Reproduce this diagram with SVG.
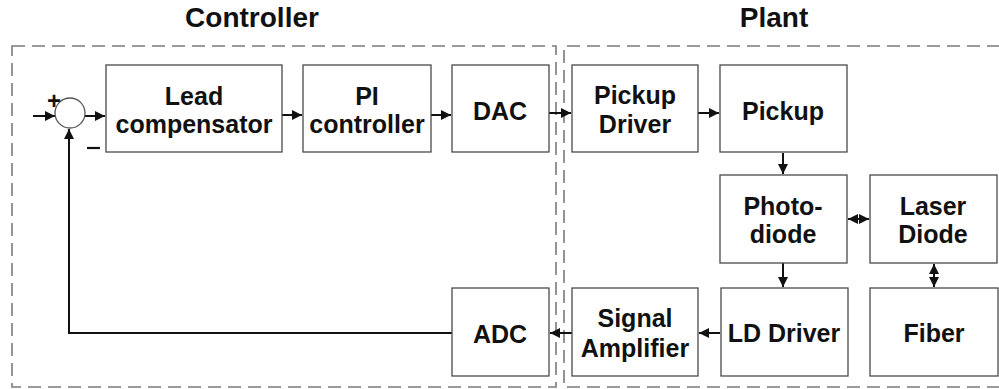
<svg xmlns="http://www.w3.org/2000/svg" width="999" height="389" viewBox="0 0 999 389">
<style>
.box{fill:#fff;stroke:#4a4a4a;stroke-width:1.3}
.t{font-family:"Liberation Sans",Arial,sans-serif;font-weight:bold;font-size:25px;fill:#111;text-anchor:middle}
.title{font-family:"Liberation Sans",Arial,sans-serif;font-weight:bold;font-size:28px;fill:#111;text-anchor:middle}
.dash{fill:none;stroke:#7a7a7a;stroke-width:1.6;stroke-dasharray:13 7}
.c{fill:none;stroke:#111;stroke-width:2}
</style>
<defs>
<marker id="ah" viewBox="0 0 10 10" refX="10" refY="5" markerWidth="5" markerHeight="5" orient="auto-start-reverse" markerUnits="strokeWidth">
<path d="M0,0 L10,5 L0,10 z" fill="#111"/>
</marker>
</defs>
<rect width="999" height="389" fill="#fff"/>
<text class="title" x="252" y="27">Controller</text>
<text class="title" x="774" y="27">Plant</text>
<rect class="dash" x="12" y="46" width="544" height="341"/>
<path class="dash" d="M1000,46 H564 V387 H1000"/>
<g id="connectors">
<line class="c" x1="33" y1="116" x2="55" y2="116" marker-end="url(#ah)"/>
<line class="c" x1="85" y1="116" x2="105" y2="116" marker-end="url(#ah)"/>
<line class="c" x1="282" y1="115" x2="302" y2="115" marker-end="url(#ah)"/>
<line class="c" x1="431" y1="115" x2="451" y2="115" marker-end="url(#ah)"/>
<line class="c" x1="549" y1="113" x2="571" y2="113" marker-end="url(#ah)"/>
<line class="c" x1="698" y1="113" x2="719" y2="113" marker-end="url(#ah)"/>
<line class="c" x1="783" y1="153" x2="783" y2="174" marker-end="url(#ah)"/>
<line class="c" x1="848" y1="219" x2="869" y2="219" marker-start="url(#ah)" marker-end="url(#ah)"/>
<line class="c" x1="934" y1="264" x2="934" y2="287" marker-start="url(#ah)" marker-end="url(#ah)"/>
<line class="c" x1="783" y1="263" x2="783" y2="287" marker-end="url(#ah)"/>
<line class="c" x1="720" y1="333" x2="699" y2="333" marker-end="url(#ah)"/>
<line class="c" x1="572" y1="333" x2="550" y2="333" marker-end="url(#ah)"/>
<path class="c" d="M452,333 H69 V129" stroke-width="2.2" marker-end="url(#ah)"/>
</g>
<g id="sum">
<circle cx="70" cy="113" r="15" fill="#fff" stroke="#555" stroke-width="1.3"/>
<text class="t" x="54" y="109" style="font-size:24px">+</text>
<line x1="87" y1="148" x2="100" y2="148" stroke="#111" stroke-width="2.2"/>
</g>
<g id="lead"><rect class="box" x="106" y="65" width="176" height="87"/><text class="t" x="194" y="105">Lead</text><text class="t" x="194" y="133">compensator</text></g>
<g id="pi"><rect class="box" x="303" y="65" width="128" height="87"/><text class="t" x="367" y="105">PI</text><text class="t" x="367" y="133">controller</text></g>
<g id="dac"><rect class="box" x="452" y="65" width="97" height="87"/><text class="t" x="500" y="120">DAC</text></g>
<g id="pickupdriver"><rect class="box" x="572" y="65" width="126" height="87"/><text class="t" x="635" y="104">Pickup</text><text class="t" x="635" y="133">Driver</text></g>
<g id="pickup"><rect class="box" x="720" y="65" width="127" height="87"/><text class="t" x="783" y="120">Pickup</text></g>
<g id="photodiode"><rect class="box" x="720" y="175" width="127" height="88"/><text class="t" x="783" y="215">Photo-</text><text class="t" x="783" y="243">diode</text></g>
<g id="laserdiode"><rect class="box" x="870" y="175" width="127" height="88"/><text class="t" x="933" y="215">Laser</text><text class="t" x="933" y="243">Diode</text></g>
<g id="adc"><rect class="box" x="452" y="288" width="97" height="88"/><text class="t" x="500" y="343">ADC</text></g>
<g id="signalamp"><rect class="box" x="572" y="288" width="126" height="88"/><text class="t" x="635" y="327">Signal</text><text class="t" x="635" y="357">Amplifier</text></g>
<g id="lddriver"><rect class="box" x="721" y="288" width="127" height="88"/><text class="t" x="784" y="342">LD Driver</text></g>
<g id="fiber"><rect class="box" x="870" y="288" width="128" height="88"/><text class="t" x="934" y="342">Fiber</text></g>
</svg>
